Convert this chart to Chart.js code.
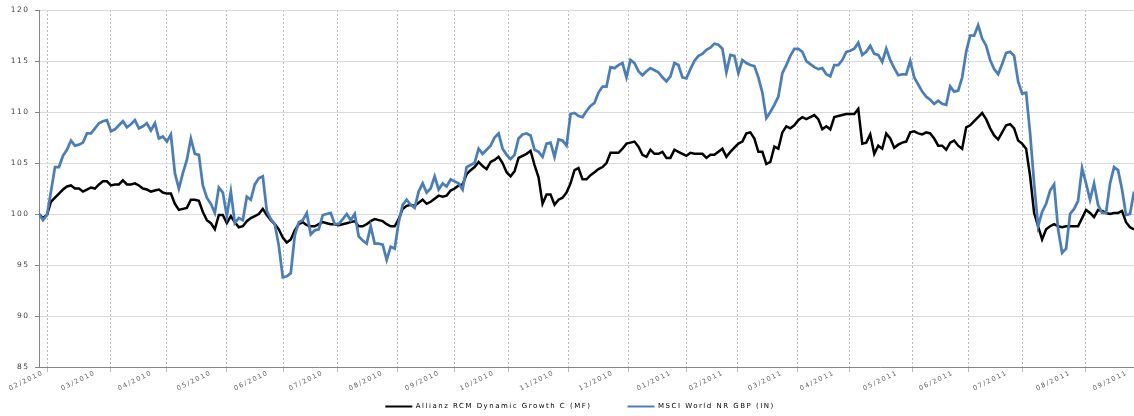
<!DOCTYPE html>
<html lang="en">
<head>
    <meta charset="UTF-8">
    <title>Allianz RCM Dynamic Growth vs MSCI World</title>
    <script src="https://cdn.jsdelivr.net/npm/chart.js"></script>
    <style>
        html, body {
            margin: 0;
            padding: 0;
            background: #fff;
            overflow: hidden;
        }
    </style>
</head>
<body>
    <canvas id="perfChart" width="1160" height="420"></canvas>

    <script>
        // Rebased performance (start = 100), one sample per step along the x axis
        const fundName = 'Allianz RCM Dynamic Growth C (MF)';
        const indexName = 'MSCI World NR GBP (IN)';

        const fund = [
            100.0, 99.6, 99.9, 101.2, 101.6, 102.0, 102.4, 102.7, 102.8, 102.5, 102.5, 102.2,
            102.4, 102.6, 102.5, 102.9, 103.2, 103.2, 102.8, 102.9, 102.9, 103.3, 102.9, 102.9,
            103.0, 102.8, 102.5, 102.4, 102.2, 102.3, 102.4, 102.1, 102.0, 102.0, 101.0, 100.4,
            100.5, 100.6, 101.4, 101.4, 101.3, 100.2, 99.4, 99.1, 98.5, 99.9, 99.9,
            99.1, 99.8, 99.2, 98.7, 98.8, 99.3, 99.6, 99.8, 100.0, 100.5, 99.9, 99.4,
            99.0, 98.5, 97.7, 97.2, 97.5, 98.4, 99.0, 99.2, 98.9, 98.8, 98.8, 99.0,
            99.2, 99.1, 99.0, 99.0, 98.9, 99.0, 99.1, 99.2, 99.3, 98.8, 98.8, 99.0,
            99.3, 99.5, 99.4, 99.3, 99.0, 98.8, 98.8, 99.5, 100.5, 100.8,
            100.9, 100.8, 101.1, 101.4, 101.0, 101.2, 101.5, 101.8, 101.7, 101.8, 102.3, 102.5,
            102.8, 102.9, 103.9, 104.3, 104.6, 105.1, 104.7, 104.4, 105.1, 105.3, 105.6, 105.0,
            104.1, 103.7, 104.2, 105.5, 105.7, 105.9, 106.2, 104.8, 103.6, 101.0, 101.9, 101.9,
            100.9, 101.4, 101.6, 102.1, 103.0, 104.3, 104.5, 103.4, 103.4, 103.8,
            104.1, 104.4, 104.6, 105.0, 106.0, 106.0, 106.0, 106.4, 106.9, 107.0, 107.1, 106.6,
            105.8, 105.6, 106.3, 105.9, 105.9, 106.1, 105.5, 105.5, 106.3, 106.1, 105.9, 105.7,
            106.0, 105.9, 105.9, 105.9, 105.5, 105.8, 105.8, 106.1, 106.4, 105.6, 106.1, 106.5,
            106.9, 107.1, 107.9, 108.0, 107.4, 106.1, 106.1, 104.9, 105.1, 106.6, 106.4,
            108.0, 108.6, 108.4, 108.7, 109.2, 109.5, 109.3, 109.5, 109.7, 109.3, 108.3, 108.6,
            108.3, 109.5, 109.6, 109.7, 109.8, 109.8, 109.8, 110.3, 106.9, 107.0, 107.8, 105.9,
            106.7, 106.4, 107.9, 107.4, 106.5, 106.8, 107.0, 107.1, 108.0, 108.1, 107.9, 107.8,
            108.0, 107.9, 107.4, 106.7, 106.7, 106.3, 107.0, 107.2, 106.7, 106.4,
            108.5, 108.7, 109.1, 109.5, 109.9, 109.3, 108.4, 107.7, 107.3, 108.0, 108.7, 108.8,
            108.4, 107.2, 106.9, 106.4, 103.7, 100.1, 98.8, 97.5, 98.5, 98.8, 99.0, 98.8,
            98.7, 98.8, 98.8, 98.8, 98.8, 99.6, 100.4, 100.1, 99.7, 100.4, 100.3, 100.1,
            100.0, 100.1, 100.1, 100.3, 99.2, 98.7, 98.5
        ];

        const msci = [
            100.0, 99.4, 99.9, 102.2, 104.6, 104.6, 105.7, 106.3, 107.2, 106.7, 106.8, 107.0,
            107.9, 107.9, 108.4, 108.9, 109.1, 109.2, 108.1, 108.3, 108.7, 109.1, 108.5, 108.8,
            109.2, 108.4, 108.6, 108.9, 108.2, 108.9, 107.4, 107.6, 107.1, 107.8, 104.0, 102.5,
            104.0, 105.3, 107.4, 105.9, 105.8, 102.8, 101.6, 101.0, 100.1, 102.6, 102.1,
            99.8, 102.2, 99.1, 99.6, 99.4, 101.7, 101.4, 102.9, 103.5, 103.7, 100.3, 99.5,
            99.0, 96.9, 93.8, 93.9, 94.2, 97.9, 99.2, 99.4, 100.1, 98.0, 98.4, 98.5,
            99.9, 100.0, 100.1, 99.0, 99.0, 99.5, 100.0, 99.4, 100.0, 97.8, 97.4, 97.1,
            98.8, 97.1, 97.1, 97.0, 95.5, 96.8, 96.6, 99.2, 100.9, 101.4,
            100.9, 100.6, 102.2, 103.0, 102.1, 102.5, 103.7, 102.4, 103.0, 102.7, 103.4, 103.2,
            103.0, 102.4, 104.6, 104.8, 105.0, 106.4, 105.9, 106.3, 106.7, 107.5, 107.9, 106.4,
            105.8, 105.4, 105.8, 107.4, 107.8, 107.9, 107.7, 106.3, 106.1, 105.6, 106.9, 107.0,
            105.6, 107.3, 107.2, 106.7, 109.8, 109.9, 109.6, 109.5, 110.1, 110.6,
            110.9, 111.9, 112.5, 112.5, 114.4, 114.3, 114.6, 114.8, 113.4, 115.1, 114.8, 114.0,
            113.6, 114.0, 114.3, 114.1, 113.9, 113.4, 113.0, 113.5, 114.8, 114.6, 113.4, 113.3,
            114.2, 115.0, 115.5, 115.7, 116.1, 116.3, 116.7, 116.6, 116.2, 113.9, 115.6, 115.5,
            113.8, 115.1, 114.8, 114.6, 114.5, 113.4, 111.9, 109.4, 110.0, 110.7, 111.5,
            113.8, 114.6, 115.5, 116.2, 116.2, 115.9, 115.0, 114.7, 114.4, 114.2, 114.3, 113.7,
            113.5, 114.6, 114.6, 115.1, 115.9, 116.0, 116.2, 116.8, 115.6, 115.9, 116.5, 115.7,
            115.6, 114.9, 116.2, 115.1, 114.3, 113.6, 113.7, 113.7, 115.0, 113.4, 112.7, 112.0,
            111.5, 111.2, 110.8, 111.1, 110.8, 110.7, 112.5, 112.0, 112.1, 113.4,
            115.9, 117.5, 117.5, 118.5, 117.2, 116.5, 115.1, 114.2, 113.7, 114.7, 115.8, 115.9,
            115.5, 113.0, 111.8, 111.9, 107.9, 103.0, 98.8, 100.2, 101.0, 102.3, 102.9, 98.5,
            96.2, 96.6, 100.0, 100.5, 101.3, 104.5, 103.0, 101.4, 103.0, 100.9, 100.1, 100.1,
            103.0, 104.6, 104.3, 102.4, 99.9, 100.0, 102.2
        ];

        // Month labels and the step at which each month starts
        const monthLabels = [
            '02/2010', '03/2010', '04/2010', '05/2010', '06/2010', '07/2010', '08/2010',
            '09/2010', '10/2010', '11/2010', '12/2010', '01/2011', '02/2011', '03/2011',
            '04/2011', '05/2011', '06/2011', '07/2011', '08/2011', '09/2011'
        ];
        const monthPos = [
            2.25, 17.8, 32.0, 46.8, 61.1, 74.8, 89.8, 103.9, 117.6, 132.6,
            147.4, 161.9, 174.9, 189.7, 202.7, 218.5, 232.5, 246.0, 261.8, 276.0
        ];
        const yTicks = [85, 90, 95, 100, 105, 110, 115, 120];
        const xMax = 280.5;

        const toPoints = arr => arr.map((v, i) => ({x: i, y: v}));

        // wide, Verdana-like text; letterSpacing is canvas state and is lost
        // whenever Chart.js resizes the canvas, so set it again before layout/draw
        const textSpacing = '1.5px';
        const wideText = {
            id: 'wideText',
            beforeLayout(chart) { chart.ctx.letterSpacing = textSpacing; },
            beforeDraw(chart) { chart.ctx.letterSpacing = textSpacing; }
        };

        const perfChart = new Chart(document.getElementById('perfChart'), {
            type: 'line',
            data: {
                datasets: [{
                    label: fundName,
                    data: toPoints(fund),
                    borderColor: '#000000',
                    backgroundColor: '#000000',
                    borderWidth: 2.5,
                    order: 1
                }, {
                    label: indexName,
                    data: toPoints(msci),
                    borderColor: '#4a7ebb',
                    backgroundColor: '#4a7ebb',
                    borderWidth: 2.75,
                    order: 0
                }]
            },
            options: {
                responsive: false,
                animation: false,
                layout: {
                    padding: {top: 6, left: 0, right: 0, bottom: 0}
                },
                elements: {
                    point: {radius: 0},
                    line: {tension: 0}
                },
                plugins: {
                    tooltip: {enabled: false},
                    legend: {
                        position: 'bottom',
                        labels: {
                            boxWidth: 27,
                            boxHeight: 2,
                            padding: 36,
                            color: '#1a1a1a',
                            font: {family: 'DejaVu Sans', size: 7},
                            // keep dataset order (fund first) and draw a thin line swatch
                            generateLabels: chart => chart.data.datasets.map((ds, i) => ({
                                text: ds.label,
                                fillStyle: ds.borderColor,
                                strokeStyle: ds.borderColor,
                                lineWidth: 0,
                                hidden: false,
                                datasetIndex: i
                            }))
                        }
                    }
                },
                scales: {
                    // month grid lines + axis line; pinned to y = 85 so it takes no layout space
                    x: {
                        type: 'linear',
                        position: {y: 85},
                        min: 0,
                        max: xMax,
                        afterBuildTicks: scale => {
                            scale.ticks = monthPos.map(v => ({value: v}));
                        },
                        ticks: {display: false},
                        grid: {
                            color: '#bcbcbc',
                            tickLength: 4,
                            tickColor: '#bcbcbc'
                        },
                        border: {color: '#868686', dash: [2, 2]}
                    },
                    // slanted month labels, drawn left of each grid line;
                    // the first one is nudged right so it stays on the canvas
                    xLabels: {
                        type: 'linear',
                        axis: 'x',
                        position: {y: 85},
                        min: 0,
                        max: xMax,
                        afterBuildTicks: scale => {
                            scale.ticks = monthPos.map((v, i) => ({value: i === 0 ? v + 2.5 : v}));
                        },
                        ticks: {
                            autoSkip: false,
                            minRotation: 26,
                            maxRotation: 26,
                            labelOffset: -15,
                            padding: 2,
                            color: '#595959',
                            font: {family: 'DejaVu Sans', size: 6.5},
                            callback: (value, i) => monthLabels[i]
                        },
                        grid: {display: false, drawTicks: false},
                        border: {display: false}
                    },
                    y: {
                        min: 85,
                        max: 120,
                        afterBuildTicks: scale => {
                            scale.ticks = yTicks.map(v => ({value: v}));
                        },
                        afterFit: scale => { scale.width = 39; },
                        ticks: {
                            padding: 5.5,
                            color: '#404040',
                            font: {family: 'DejaVu Sans', size: 7.5}
                        },
                        grid: {
                            color: '#d9d9d9',
                            tickLength: 4,
                            tickColor: '#868686'
                        },
                        border: {color: '#868686'}
                    }
                }
            },
            plugins: [wideText]
        });
    </script>
</body>
</html>
